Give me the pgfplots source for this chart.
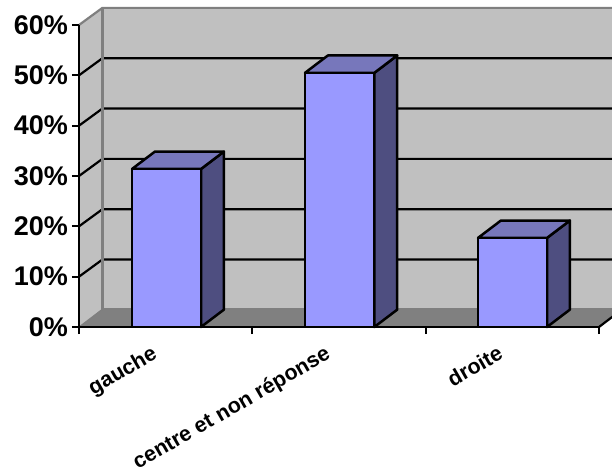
\documentclass[border=0pt]{standalone}
\usepackage{fontspec}
\setmainfont{Liberation Sans}
\usepackage{pgfplots}
\pgfplotsset{compat=1.18}
\definecolor{wall}{HTML}{C0C0C0}
\definecolor{floorgrey}{HTML}{808080}
\definecolor{edgegrey}{HTML}{7F7F7F}
\definecolor{barfront}{HTML}{9999FF}
\definecolor{bartop}{HTML}{7777BB}
\definecolor{barside}{HTML}{4E4E80}
\begin{document}
\begin{tikzpicture}
\clip[use as bounding box] (0,0) rectangle (612pt,473pt);
\begin{axis}[
  at={(79pt,146pt)}, anchor=south west,
  scale only axis, width=520pt, height=302pt,
  xmin=0, xmax=3, ymin=0, ymax=60,
  clip=false, axis on top,
  axis x line*=bottom, axis y line*=left,
  axis line style={black,line width=2.4pt},
  tick align=outside, major tick length=7pt,
  tick style={black,line width=2.2pt},
  xtick={0,1,2,3}, xticklabels={},
  extra x ticks={0.505,1.504,2.501},
  extra x tick labels={gauche,centre et non réponse,droite},
  extra x tick style={major tick length=0pt,
    tick label style={font=\bfseries\fontsize{21.4}{21.4}\selectfont,
      rotate=30, anchor=north east, xshift=-19pt, yshift=-3.5pt}},
  ytick={0,10,20,30,40,50,60},
  yticklabels={0\%,10\%,20\%,30\%,40\%,50\%,60\%},
  yticklabel style={font=\bfseries\fontsize{27}{27}\selectfont, inner sep=0pt, xshift=-4pt},
]
% Walls and floor of the box
\addplot[fill=wall,draw=none] coordinates {(0.135,3.55)(3.135,3.55)(3.135,63.4)(0.135,63.4)} -- cycle;
\addplot[fill=wall,draw=none] coordinates {(0,0)(0.135,3.55)(0.135,63.4)(0,60)} -- cycle;
\addplot[fill=floorgrey,draw=none] coordinates {(0,0)(0.135,3.55)(3.135,3.55)(3,0)} -- cycle;
% Gridlines across the side wall and back wall
\addplot[black,line width=2.2pt] coordinates {(0,10)(0.135,13.4)(3.135,13.4)};
\addplot[black,line width=2.2pt] coordinates {(0,20)(0.135,23.4)(3.135,23.4)};
\addplot[black,line width=2.2pt] coordinates {(0,30)(0.135,33.4)(3.135,33.4)};
\addplot[black,line width=2.2pt] coordinates {(0,40)(0.135,43.4)(3.135,43.4)};
\addplot[black,line width=2.2pt] coordinates {(0,50)(0.135,53.4)(3.135,53.4)};
% Wall outlines
\addplot[edgegrey,line width=2.2pt] coordinates {(0,60)(0.135,63.4)(3.135,63.4)};
\addplot[edgegrey,line width=2.2pt] coordinates {(0.135,63.4)(0.135,3.55)(3.135,3.55)};
\addplot[edgegrey,line width=1pt] coordinates {(0,0)(0.135,3.55)};
\addplot[black,line width=2.2pt] coordinates {(3,0)(3.135,3.55)};
% Sides and tops of the bars
\addplot[fill=barside,draw=black,line width=2.5pt,line join=round] coordinates {(0.704,0)(0.836,3.45)(0.836,34.85)(0.704,31.4)} -- cycle;
\addplot[fill=bartop,draw=black,line width=2.5pt,line join=round] coordinates {(0.306,31.4)(0.438,34.85)(0.836,34.85)(0.704,31.4)} -- cycle;
\addplot[fill=barside,draw=black,line width=2.5pt,line join=round] coordinates {(1.704,0)(1.836,3.45)(1.836,53.95)(1.704,50.5)} -- cycle;
\addplot[fill=bartop,draw=black,line width=2.5pt,line join=round] coordinates {(1.304,50.5)(1.436,53.95)(1.836,53.95)(1.704,50.5)} -- cycle;
\addplot[fill=barside,draw=black,line width=2.5pt,line join=round] coordinates {(2.700,0)(2.832,3.45)(2.832,21.15)(2.700,17.7)} -- cycle;
\addplot[fill=bartop,draw=black,line width=2.5pt,line join=round] coordinates {(2.302,17.7)(2.434,21.15)(2.832,21.15)(2.700,17.7)} -- cycle;
% Front faces of the bars
\addplot[ybar,bar width=69pt,bar shift=0pt,fill=barfront,draw=black,line width=2.5pt]
  coordinates {(0.505,31.4)(1.504,50.5)(2.501,17.7)};
\end{axis}
\end{tikzpicture}
\end{document}
